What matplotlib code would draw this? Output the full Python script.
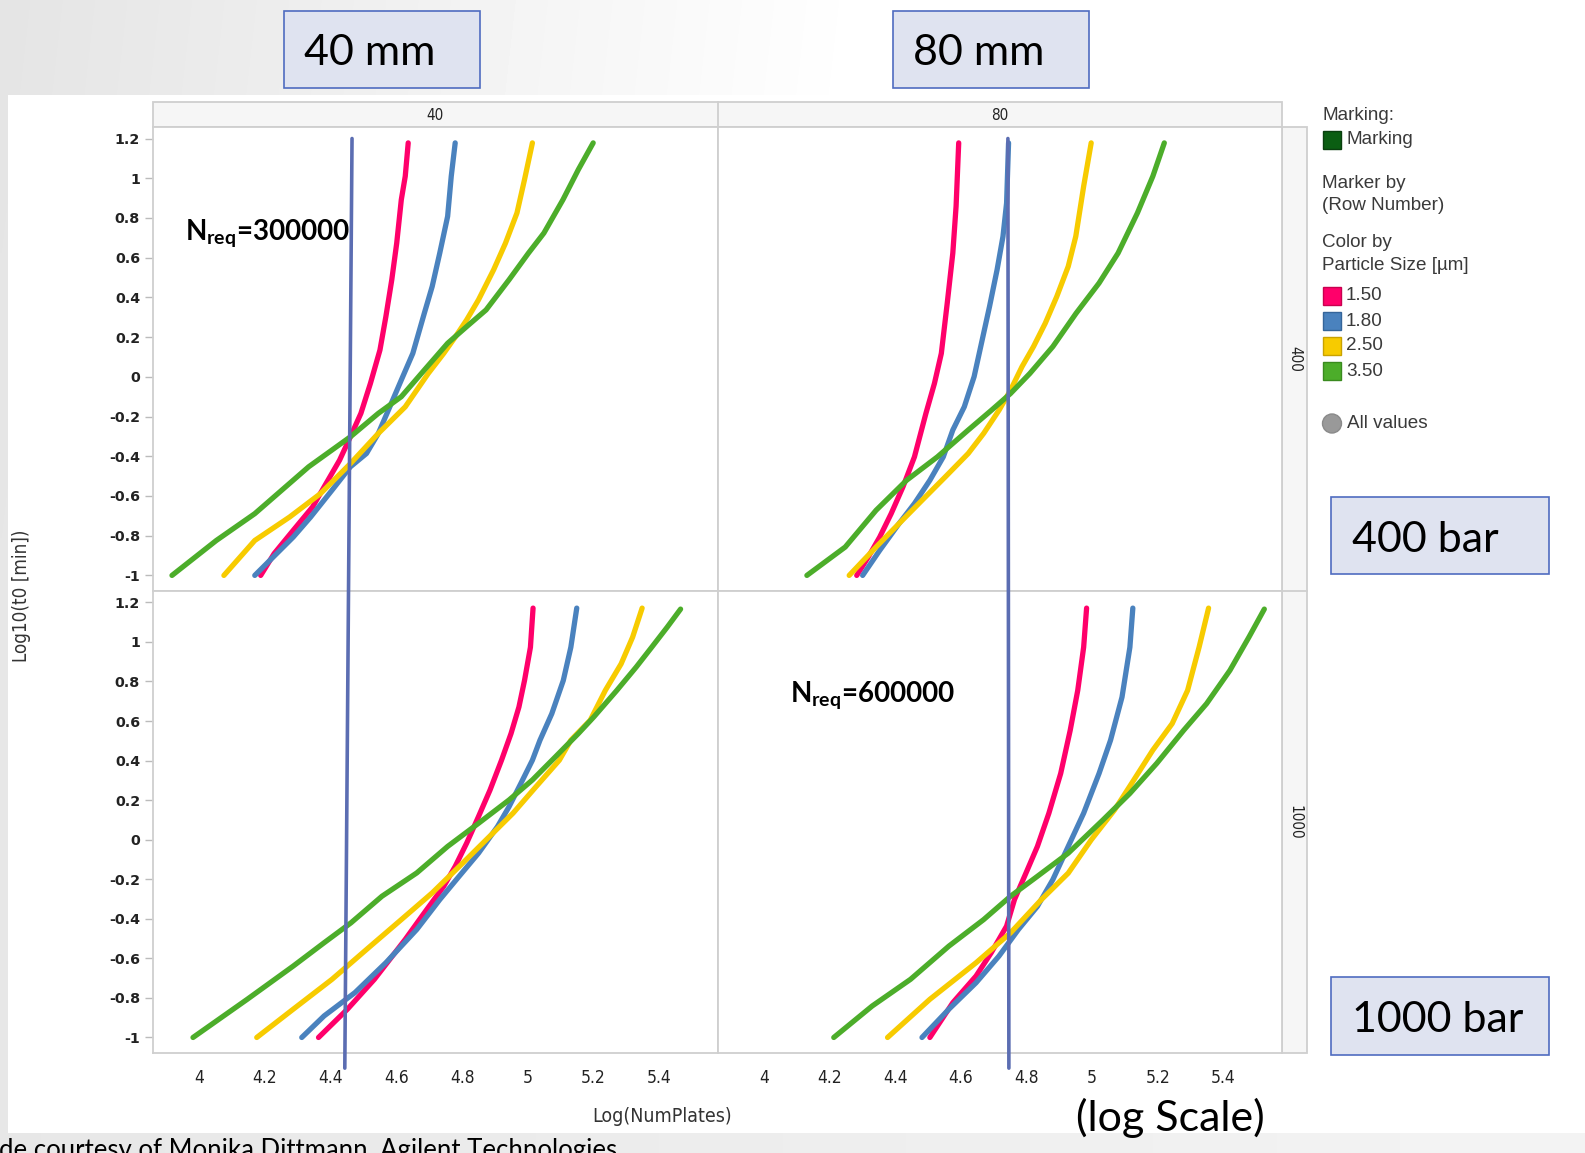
import matplotlib
matplotlib.use('Agg')
import matplotlib.pyplot as plt
import numpy as np
from matplotlib.patches import Rectangle, Circle, ConnectionPatch

W, H = 1585, 1153
DPI = 100

plt.rcParams['mathtext.fontset'] = 'custom'
plt.rcParams['mathtext.bf'] = 'Lato:bold'
plt.rcParams['mathtext.rm'] = 'Lato'
plt.rcParams['mathtext.it'] = 'Lato:italic'

# ---------------- data ----------------
sizes = ['1.50', '1.80', '2.50', '3.50']
colors = ['#ff006a', '#4a82be', '#f7cb00', '#4cad2a']
columns = ['40', '80']
rows = ['400', '1000']
x_ticks = [4, 4.2, 4.4, 4.6, 4.8, 5, 5.2, 5.4]
x_tick_labels = ['4', '4.2', '4.4', '4.6', '4.8', '5', '5.2', '5.4']
y_ticks = [1.2, 1, 0.8, 0.6, 0.4, 0.2, 0, -0.2, -0.4, -0.6, -0.8, -1]
y_tick_labels = ['1.2', '1', '0.8', '0.6', '0.4', '0.2', '0', '-0.2', '-0.4', '-0.6', '-0.8', '-1']

# 40 mm, 400 bar
x_40_400_150 = [4.187, 4.228, 4.286, 4.345, 4.392, 4.427, 4.460, 4.492, 4.521, 4.550, 4.568, 4.586, 4.601, 4.615, 4.627, 4.636]
y_40_400_150 = [-1.0, -0.89, -0.773, -0.655, -0.52, -0.42, -0.302, -0.184, -0.033, 0.135, 0.303, 0.489, 0.673, 0.892, 1.01, 1.178]
x_40_400_180 = [4.169, 4.286, 4.339, 4.404, 4.46, 4.509, 4.545, 4.58, 4.615, 4.65, 4.685, 4.709, 4.732, 4.756, 4.767, 4.779]
y_40_400_180 = [-1.0, -0.807, -0.706, -0.571, -0.453, -0.386, -0.285, -0.151, -0.016, 0.118, 0.32, 0.455, 0.623, 0.808, 1.01, 1.178]
x_40_400_250 = [4.075, 4.169, 4.275, 4.369, 4.46, 4.545, 4.627, 4.697, 4.744, 4.779, 4.814, 4.85, 4.896, 4.932, 4.967, 4.99, 5.014]
y_40_400_250 = [-1.0, -0.824, -0.706, -0.588, -0.437, -0.285, -0.151, 0.017, 0.118, 0.2, 0.287, 0.388, 0.539, 0.673, 0.825, 0.993, 1.178]
x_40_400_350 = [3.917, 4.052, 4.169, 4.333, 4.46, 4.545, 4.615, 4.685, 4.756, 4.814, 4.873, 4.943, 5.002, 5.049, 5.107, 5.154, 5.199]
y_40_400_350 = [-1.0, -0.824, -0.689, -0.453, -0.302, -0.184, -0.1, 0.034, 0.169, 0.253, 0.337, 0.489, 0.623, 0.724, 0.892, 1.044, 1.178]

# 80 mm, 400 bar
x_80_400_150 = [4.282, 4.317, 4.352, 4.387, 4.423, 4.458, 4.493, 4.519, 4.54, 4.558, 4.575, 4.585, 4.593]
y_80_400_150 = [-1.0, -0.908, -0.807, -0.689, -0.554, -0.403, -0.184, -0.033, 0.118, 0.371, 0.623, 0.859, 1.178]
x_80_400_180 = [4.3, 4.352, 4.411, 4.458, 4.505, 4.546, 4.575, 4.61, 4.64, 4.669, 4.687, 4.71, 4.728, 4.739, 4.745]
y_80_400_180 = [-1.0, -0.874, -0.739, -0.638, -0.521, -0.403, -0.268, -0.151, 0.001, 0.219, 0.354, 0.539, 0.707, 0.875, 1.178]
x_80_400_250 = [4.259, 4.341, 4.411, 4.481, 4.552, 4.622, 4.669, 4.716, 4.751, 4.786, 4.821, 4.857, 4.892, 4.927, 4.95, 4.974, 4.997]
y_80_400_250 = [-1.0, -0.857, -0.739, -0.622, -0.504, -0.386, -0.285, -0.168, -0.067, 0.051, 0.152, 0.27, 0.404, 0.556, 0.707, 0.959, 1.178]
x_80_400_350 = [4.13, 4.247, 4.341, 4.434, 4.528, 4.622, 4.693, 4.751, 4.81, 4.88, 4.951, 5.021, 5.079, 5.138, 5.185, 5.22]
y_80_400_350 = [-1.0, -0.857, -0.672, -0.521, -0.403, -0.268, -0.168, -0.084, 0.017, 0.152, 0.32, 0.472, 0.623, 0.825, 1.01, 1.178]

# 40 mm, 1000 bar
x_40_1000_150 = [4.363, 4.451, 4.533, 4.627, 4.685, 4.744, 4.779, 4.814, 4.85, 4.885, 4.92, 4.949, 4.973, 4.99, 5.008, 5.016]
y_40_1000_150 = [-1.0, -0.857, -0.706, -0.504, -0.37, -0.236, -0.135, -0.017, 0.117, 0.251, 0.402, 0.537, 0.671, 0.805, 0.973, 1.171]
x_40_1000_180 = [4.312, 4.38, 4.474, 4.568, 4.662, 4.732, 4.791, 4.85, 4.908, 4.943, 4.979, 5.014, 5.037, 5.073, 5.108, 5.131, 5.149]
y_40_1000_180 = [-1.0, -0.891, -0.773, -0.622, -0.454, -0.303, -0.185, -0.068, 0.067, 0.167, 0.285, 0.402, 0.503, 0.637, 0.805, 0.973, 1.171]
x_40_1000_250 = [4.175, 4.286, 4.404, 4.521, 4.615, 4.709, 4.802, 4.873, 4.955, 5.025, 5.096, 5.131, 5.19, 5.236, 5.284, 5.319, 5.348]
y_40_1000_250 = [-1.0, -0.857, -0.706, -0.538, -0.404, -0.269, -0.118, -0.001, 0.134, 0.268, 0.402, 0.503, 0.604, 0.755, 0.889, 1.024, 1.171]
x_40_1000_350 = [3.981, 4.146, 4.286, 4.38, 4.462, 4.556, 4.662, 4.756, 4.85, 4.943, 5.014, 5.084, 5.154, 5.201, 5.271, 5.33, 5.377, 5.424, 5.465]
y_40_1000_350 = [-1.0, -0.807, -0.639, -0.521, -0.42, -0.286, -0.168, -0.034, 0.083, 0.201, 0.302, 0.419, 0.537, 0.621, 0.755, 0.873, 0.973, 1.074, 1.166]

# 80 mm, 1000 bar
x_80_1000_150 = [4.505, 4.575, 4.646, 4.692, 4.739, 4.763, 4.798, 4.833, 4.868, 4.904, 4.933, 4.956, 4.974, 4.983]
y_80_1000_150 = [-1.0, -0.824, -0.689, -0.572, -0.437, -0.303, -0.169, -0.034, 0.134, 0.335, 0.553, 0.755, 0.973, 1.171]
x_80_1000_180 = [4.481, 4.563, 4.646, 4.716, 4.775, 4.833, 4.88, 4.927, 4.974, 5.021, 5.056, 5.091, 5.115, 5.124]
y_80_1000_180 = [-1.0, -0.857, -0.723, -0.588, -0.454, -0.337, -0.202, -0.034, 0.134, 0.335, 0.503, 0.721, 0.973, 1.171]
x_80_1000_250 = [4.376, 4.505, 4.646, 4.751, 4.845, 4.927, 4.997, 5.068, 5.127, 5.185, 5.244, 5.291, 5.326, 5.355]
y_80_1000_250 = [-1.0, -0.807, -0.622, -0.471, -0.303, -0.169, -0.001, 0.15, 0.302, 0.453, 0.587, 0.755, 0.973, 1.171]
x_80_1000_350 = [4.212, 4.329, 4.446, 4.563, 4.669, 4.751, 4.833, 4.927, 5.033, 5.115, 5.197, 5.279, 5.349, 5.42, 5.478, 5.525]
y_80_1000_350 = [-1.0, -0.841, -0.706, -0.538, -0.404, -0.286, -0.185, -0.068, 0.1, 0.234, 0.386, 0.553, 0.688, 0.856, 1.024, 1.166]

# required plate numbers (hand-drawn marker lines): top / bottom x positions
nreq_40_line = [4.465, 4.443]
nreq_80_line = [4.743, 4.746]

# ---------------- figure ----------------
fig = plt.figure(figsize=(W / DPI, H / DPI), dpi=DPI)

bg = fig.add_axes([0, 0, 1, 1], zorder=-5)
bg.set_xlim(0, W)
bg.set_ylim(H, 0)
bg.axis('off')
u = np.linspace(0, 1, 400)
v = np.linspace(0, 1, 300)
U, V = np.meshgrid(u, v)
top_band = 0.895 + 0.105 * np.clip(U / 0.55 + V * 0.15, 0, 1)
bottom_band = 0.905 + 0.05 * U
grad = np.where(V > 0.5, bottom_band, top_band)
grad = np.clip(grad, 0, 1)
bg.imshow(grad, cmap='gray', vmin=0, vmax=1, extent=[0, W, H, 0], aspect='auto',
          interpolation='bilinear')
bg.add_patch(Rectangle((8, 95), W - 8, 1133 - 95, facecolor='white', edgecolor='none'))
bg.set_xlim(0, W)
bg.set_ylim(H, 0)


def rect(x0, y0, x1, y1):
    return [x0 / W, 1 - y1 / H, (x1 - x0) / W, (y1 - y0) / H]


XL = (152.6, 717.7, 1281.7)
YL = (127.4, 591.3, 1053.3)
XLIM = (3.858, 5.578)
YLIM = (-1.08, 1.256)

panel_data = {
    (0, 0): [(x_40_400_150, y_40_400_150), (x_40_400_180, y_40_400_180),
             (x_40_400_250, y_40_400_250), (x_40_400_350, y_40_400_350)],
    (0, 1): [(x_80_400_150, y_80_400_150), (x_80_400_180, y_80_400_180),
             (x_80_400_250, y_80_400_250), (x_80_400_350, y_80_400_350)],
    (1, 0): [(x_40_1000_150, y_40_1000_150), (x_40_1000_180, y_40_1000_180),
             (x_40_1000_250, y_40_1000_250), (x_40_1000_350, y_40_1000_350)],
    (1, 1): [(x_80_1000_150, y_80_1000_150), (x_80_1000_180, y_80_1000_180),
             (x_80_1000_250, y_80_1000_250), (x_80_1000_350, y_80_1000_350)],
}

grid_col = '#cfcfcf'
axes = {}
for r in range(2):
    for c in range(2):
        ax = fig.add_axes(rect(XL[c], YL[r], XL[c + 1], YL[r + 1]))
        ax.set_facecolor('white')
        ax.set_xlim(*XLIM)
        ax.set_ylim(*YLIM)
        for s in ax.spines.values():
            s.set_color(grid_col)
            s.set_linewidth(1.3)
        ax.set_yticks(y_ticks)
        ax.set_xticks(x_ticks)
        if c == 0:
            ax.set_yticklabels(y_tick_labels, fontfamily='DejaVu Sans', fontweight='bold',
                               fontsize=10.3, color='#222222')
            ax.tick_params(axis='y', length=6, width=1, color='#bbbbbb', pad=3)
        else:
            ax.tick_params(axis='y', length=0, labelleft=False)
        if r == 1:
            ax.set_xticklabels(x_tick_labels, fontfamily='DejaVu Sans', fontstretch='condensed',
                               fontsize=12.5, color='#222222')
            ax.tick_params(axis='x', length=0, pad=11)
        else:
            ax.tick_params(axis='x', length=0, labelbottom=False)
        for (xs, ys), col in zip(panel_data[(r, c)], colors):
            ax.plot(xs, ys, color=col, lw=3.8, solid_capstyle='round', solid_joinstyle='round')
        axes[(r, c)] = ax

# strips
bg.add_patch(Rectangle((XL[0], 102), XL[2] - XL[0], YL[0] - 102, facecolor='#f6f6f6',
                       edgecolor=grid_col, lw=1.3))
bg.plot([XL[1], XL[1]], [102, YL[0]], color=grid_col, lw=1.3)
bg.add_patch(Rectangle((XL[2], YL[0]), 1307 - XL[2], YL[2] - YL[0], facecolor='#f6f6f6',
                       edgecolor=grid_col, lw=1.3))
bg.plot([XL[2], 1307], [YL[1], YL[1]], color=grid_col, lw=1.3)
for i, lab in enumerate(columns):
    fig.text((XL[i] + XL[i + 1]) / 2, 115, lab, transform=bg.transData, ha='center', va='center',
             fontsize=11, fontfamily='DejaVu Sans', fontstretch='condensed', color='#222222')
for i, lab in enumerate(rows):
    fig.text(1294.5, (YL[i] + YL[i + 1]) / 2, lab, transform=bg.transData, ha='center', va='center',
             rotation=-90, fontsize=11, fontfamily='DejaVu Sans', fontstretch='condensed',
             color='#222222')

# axis labels
fig.text(22, 596, 'Log10(t0 [min])', transform=bg.transData, rotation=90, ha='center', va='center',
         fontsize=13.5, fontfamily='DejaVu Sans', fontstretch='condensed', color='#333333')
fig.text(662, 1117, 'Log(NumPlates)', transform=bg.transData, ha='center', va='center',
         fontsize=14, fontfamily='DejaVu Sans', fontstretch='condensed', color='#333333')

# N_req marker lines
line_col = '#5b6db2'
for (top_ax, bot_ax, xs_line) in [(axes[(0, 0)], axes[(1, 0)], nreq_40_line),
                                  (axes[(0, 1)], axes[(1, 1)], nreq_80_line)]:
    cp = ConnectionPatch(xyA=(xs_line[0], 1.2), coordsA=top_ax.transData,
                         xyB=(xs_line[1], -1.155), coordsB=bot_ax.transData,
                         color=line_col, lw=2.6, zorder=10)
    fig.add_artist(cp)

for (tx, ty, val) in [(185, 239.5, '300000'), (790.5, 701.5, '600000')]:
    fig.text(tx, ty, r'N$_{\mathbf{req}}$=' + val, transform=bg.transData, ha='left',
             va='baseline', fontsize=20, fontfamily='Lato', fontweight='bold', color='black',
             zorder=11)

# boxed annotations
box_fc = '#dfe3f0'
box_ec = '#4f6cc0'
boxes = [((284, 11, 480, 88), (304, 65), '40 mm'),
         ((892.5, 11, 1088.5, 88), (913, 65), '80 mm'),
         ((1331, 496.5, 1548.5, 574), (1352, 552), '400 bar'),
         ((1331, 977, 1548.5, 1055), (1352, 1032.5), '1000 bar')]
for (x0, y0, x1, y1), (tx, ty), s in boxes:
    bg.add_patch(Rectangle((x0, y0), x1 - x0, y1 - y0, facecolor=box_fc, edgecolor=box_ec,
                           lw=1.2, zorder=3))
    fig.text(tx, ty, s, transform=bg.transData, ha='left', va='baseline', fontsize=31,
             fontfamily='Lato', color='black', zorder=12)

fig.text(1076.5, 1131, '(log Scale)', transform=bg.transData, ha='left', va='baseline',
         fontsize=31, fontfamily='Lato', color='black', zorder=12)
fig.text(-1, 1158, 'de courtesy of Monika Dittmann, Agilent Technologies', transform=bg.transData,
         ha='left', va='baseline', fontsize=18.5, fontfamily='Lato', color='black', zorder=12)

# legend
leg_font = dict(fontfamily='Liberation Sans', fontsize=13.6, color='#3a3a3a', va='center', ha='left')
fig.text(1322, 115, 'Marking:', transform=bg.transData, **leg_font)
bg.add_patch(Rectangle((1323, 130.5), 18, 18, facecolor='#0b5e12', edgecolor='#0a3f0e', lw=1, zorder=3))
fig.text(1346, 139.5, 'Marking', transform=bg.transData, **leg_font)
fig.text(1322, 183, 'Marker by', transform=bg.transData, **leg_font)
fig.text(1322, 206, '(Row Number)', transform=bg.transData, **leg_font)
fig.text(1322, 242.5, 'Color by', transform=bg.transData, **leg_font)
fig.text(1322, 266, 'Particle Size [µm]', transform=bg.transData, **leg_font)
leg_y = [296, 321.4, 345.7, 371]
edge_cols = ['#c8004f', '#35659a', '#c9a200', '#3a8a1f']
for yy, col, ec, s in zip(leg_y, colors, edge_cols, sizes):
    bg.add_patch(Rectangle((1323, yy - 9), 18, 18, facecolor=col, edgecolor=ec, lw=1, zorder=3))
    fig.text(1346, yy, s, transform=bg.transData, **leg_font)
bg.add_patch(Circle((1332, 423.5), 9.5, facecolor='#999999', edgecolor='#8a8a8a', lw=1, zorder=3))
fig.text(1347, 423.5, 'All values', transform=bg.transData, **leg_font)

fig.savefig('out.png', dpi=DPI)
